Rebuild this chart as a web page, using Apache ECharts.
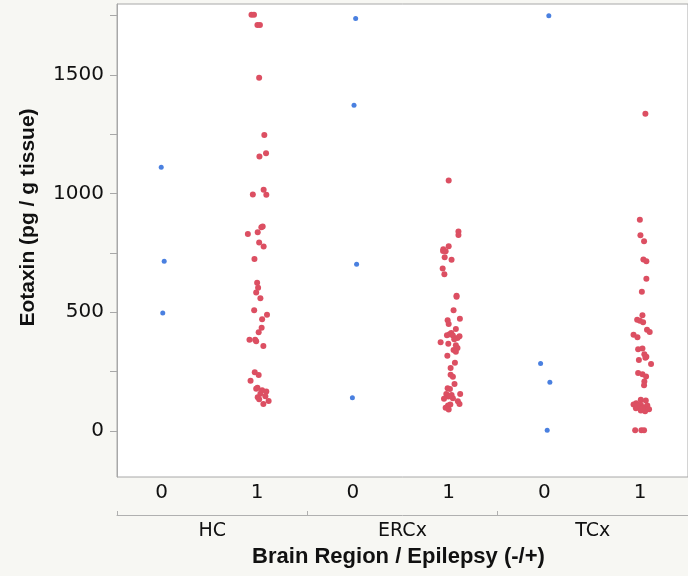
<!DOCTYPE html>
<html>
<head>
    <meta charset="utf-8">
    <title>Eotaxin</title>
    <script src="https://cdn.jsdelivr.net/npm/echarts@6/dist/echarts.min.js"></script>
    <style type="text/css">
        html, body { margin: 0; padding: 0; background: #f7f7f3; }
        #main { width: 688px; height: 576px; }
    </style>
</head>
<body>
<div id="main"></div>
<script type="text/javascript">
    // categories
    var regions = ['HC', 'ERCx', 'TCx'];
    var subLabels = ['0', '1', '0', '1', '0', '1'];

    // values (pg / g tissue) and horizontal jitter (in category units)
    var hc0Vals = [1111, 715, 497];
    var hc0Jit = [-0.003, 0.028, 0.013];
    var hc1Vals = [1754, 1754, 1711, 1711, 1488, 1247, 1170, 1156, 1016, 995, 996, 861, 858, 837, 830,
        794, 777, 725, 625, 603, 583, 559, 509, 490, 471, 435, 416, 384, 384, 378, 358,
        247, 236, 212, 178, 182, 171, 166, 157, 146, 142, 134, 126, 114];
    var hc1Jit = [-0.06, -0.034, 0.002, 0.028, 0.02, 0.074, 0.092, 0.023, 0.067, 0.095, -0.046, 0.057, 0.043, 0.005, -0.098,
        0.02, 0.067, -0.029, -0.001, 0.009, -0.011, 0.033, -0.032, 0.102, 0.051, 0.046, 0.015, -0.081, -0.022, -0.011, 0.064,
        -0.026, 0.015, -0.07, -0.011, 0.002, 0.051, 0.095, 0.033, 0.085, 0.005, 0.02, 0.119, 0.064];

    var erc0Vals = [1738, 1372, 702, 140];
    var erc0Jit = [0.028, 0.011, 0.038, -0.006];
    var erc1Vals = [1055, 840, 826, 778, 766, 758, 757, 732, 721, 684, 660, 570, 565, 509, 473, 466, 451, 430,
        413, 407, 402, 403, 399, 392, 386, 374, 367, 361, 350, 341, 334, 317, 287, 265, 237, 228, 198, 180, 177,
        156, 152, 156, 145, 136, 138, 125, 112, 114, 107, 98, 90];
    var erc1Jit = [0, 0.102, 0.102, 0, -0.056, -0.059, -0.032, -0.042, 0.03, -0.063, -0.045, 0.082, 0.082, 0.051, 0.117, -0.011, 0, 0.075,
        0.027, 0.009, 0.044, -0.018, 0.113, 0.092, 0.058, -0.084, -0.004, 0.075, 0.092, 0.051, 0.075, -0.014, 0.065, 0.02, 0.02, 0.044, 0.061, -0.011, 0.013,
        -0.025, 0.03, 0.12, -0.004, -0.049, 0.044, 0.096, 0.017, 0.113, -0.007, -0.032, 0];

    var tcx0Vals = [1749, 284, 205, 3];
    var tcx0Jit = [0.046, -0.04, 0.057, 0.029];
    var tcx1Vals = [1337, 890, 825, 799, 722, 715, 641, 587, 488, 469, 464, 458, 426, 417, 405, 395,
        344, 347, 323, 313, 299, 308, 282, 244, 239, 229, 208, 193,
        131, 128, 117, 111, 110, 107, 102, 100, 96, 91, 86, 83, 107, 96, 3, 3, 3];
    var tcx1Jit = [0.055, -0.003, 0.003, 0.041, 0.034, 0.065, 0.065, 0.018, 0.024, -0.031, -0.003, 0.031, 0.072, 0.1, -0.069, -0.028,
        -0.021, 0.024, 0.044, 0.065, -0.013, 0.055, 0.114, -0.021, 0.024, 0.062, 0.044, 0.041,
        0.007, 0.059, -0.041, -0.069, 0.007, 0.075, -0.021, 0.041, -0.044, 0.093, 0.007, 0.052, -0.028, 0.024, -0.052, 0.013, 0.041];

    var yLabels = [0, 500, 1000, 1500];
    var yTicks = [0, 250, 500, 750, 1000, 1250, 1500, 1750];

    function pts(idx, vals, jit) {
        return vals.map(function (v, i) { return [idx + jit[i], v]; });
    }

    var blueData = [].concat(pts(0, hc0Vals, hc0Jit), pts(2, erc0Vals, erc0Jit), pts(4, tcx0Vals, tcx0Jit));
    var redData = [].concat(pts(1, hc1Vals, hc1Jit), pts(3, erc1Vals, erc1Jit), pts(5, tcx1Vals, tcx1Jit));

    var chart = echarts.init(document.getElementById('main'));
    chart.setOption({
        backgroundColor: '#f7f7f3',
        animation: false,
        grid: {
            left: 117, top: 4, width: 577, height: 473,
            show: true, backgroundColor: '#ffffff', borderColor: '#a8a8a8', borderWidth: 1
        },
        xAxis: [{
            type: 'value',
            min: -0.465, max: 5.5,
            axisLine: {show: false},
            axisTick: {show: false},
            splitLine: {show: false},
            axisLabel: {
                customValues: [0, 1, 2, 3, 4, 5],
                formatter: function (v) { return subLabels[Math.round(v)]; },
                margin: 6,
                color: '#111',
                fontFamily: 'DejaVu Sans',
                fontSize: 20
            }
        }, {
            type: 'category',
            position: 'bottom',
            offset: 38,
            data: regions,
            axisLine: {show: true, lineStyle: {color: '#b0b0b0', width: 1}},
            axisTick: {show: true, inside: true, length: 4, interval: 0, lineStyle: {color: '#b0b0b0'}},
            axisLabel: {margin: 7, color: '#111', fontFamily: 'DejaVu Sans', fontSize: 19},
            name: 'Brain Region / Epilepsy (-/+)',
            nameLocation: 'middle',
            nameGap: 31,
            nameTextStyle: {
                fontFamily: 'Liberation Sans', fontWeight: 'bold', fontSize: 22, color: '#111',
                padding: [0, 8, 0, 0]
            }
        }],
        yAxis: {
            type: 'value',
            min: -194, max: 1799,
            axisLine: {show: true, onZero: false, lineStyle: {color: '#a8a8a8'}},
            splitLine: {show: false},
            axisTick: {show: true, customValues: yTicks, length: 7, lineStyle: {color: '#a8a8a8'}},
            axisLabel: {
                customValues: yLabels,
                formatter: function (v) { return String(v); },
                margin: 13,
                color: '#111',
                fontFamily: 'DejaVu Sans',
                fontSize: 20
            },
            name: 'Eotaxin (pg / g tissue)',
            nameLocation: 'middle',
            nameGap: 78,
            nameTextStyle: {
                fontFamily: 'Liberation Sans', fontWeight: 'bold', fontSize: 21, color: '#111',
                padding: [0, 0, 0, 46]
            }
        },
        series: [{
            name: '0',
            type: 'scatter',
            xAxisIndex: 0,
            symbolSize: 5,
            itemStyle: {color: '#4a80e0', opacity: 1},
            data: blueData
        }, {
            name: '1',
            type: 'scatter',
            xAxisIndex: 0,
            symbolSize: 6,
            itemStyle: {color: '#dc4f62', opacity: 1},
            data: redData
        }]
    });
</script>
</body>
</html>
